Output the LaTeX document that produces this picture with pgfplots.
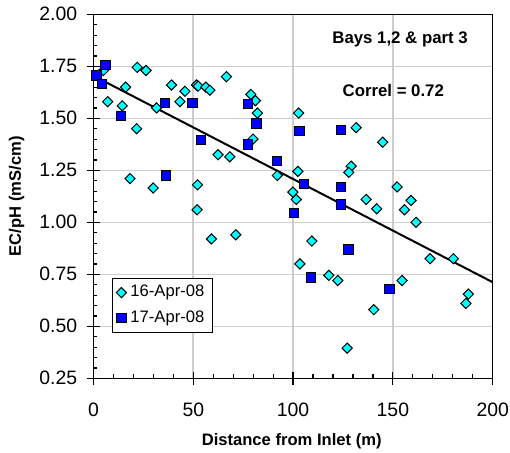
\documentclass[border=0pt]{standalone}
\usepackage{pgfplots}
\pgfplotsset{compat=1.18}
\usepackage{fontspec}
\setmainfont{Liberation Sans}
\definecolor{mycyan}{RGB}{0,255,255}
\definecolor{myblue}{RGB}{0,0,255}
\definecolor{gridgray}{RGB}{205,205,205}
\begin{document}
\begin{tikzpicture}
\begin{axis}[
  name=ax,
  scale only axis, width=199.6pt, height=182pt,
  xmin=0, xmax=200, ymin=0.25, ymax=2.0,
  xtick={0,50,100,150,200},
  ytick={0.25,0.5,0.75,1.0,1.25,1.5,1.75,2.0},
  minor x tick num=4, minor y tick num=4,
  xtick pos=left, ytick pos=left,
  tick align=center,
  major tick length=6.3pt,
  minor tick length=2pt,
  minor x tick style={yshift=1pt},
  minor y tick style={xshift=1pt},
  tick style={black, line width=0.6pt},
  xmajorgrids=true, ymajorgrids=true,
  major grid style={draw=gridgray, line width=0.8pt},
  axis line style={line width=0.6pt},
  clip=false,
  /pgf/number format/assume math mode=true,
  ticklabel style={font=\fontsize{9.7}{11}\selectfont},
  xticklabel style={yshift=-5.5pt},
  yticklabel style={xshift=-1.5pt, /pgf/number format/fixed, /pgf/number format/fixed zerofill, /pgf/number format/precision=2},
  xlabel={Distance from Inlet (m)},
  ylabel={EC/pH (mS/cm)},
  xlabel style={font=\bfseries\fontsize{8.3}{10}\selectfont, at={(axis description cs:0.4965,-0.1725)}, anchor=center},
  ylabel style={font=\bfseries\fontsize{8.3}{10}\selectfont, at={(axis description cs:-0.1924,0.5)}, anchor=center},
  legend style={at={(axis description cs:0.0456,0.2764)}, anchor=north west, draw=black, line width=0.6pt,
    font=\fontsize{8.3}{10}\selectfont, inner xsep=2pt, inner ysep=1.5pt, row sep=1.5pt},
  legend cell align=left,
]
\addplot[black, line width=1pt, forget plot] coordinates {(4.3,1.683) (200,0.712)};
\addplot[only marks, mark=square*, mark size=1.8pt, mark options={rotate=45, fill=mycyan, draw=black, line width=0.5pt}]
coordinates {
(5,1.73) (7.1,1.58) (16.1,1.65) (14.4,1.56) (21.9,1.745) (26.3,1.73) (21.6,1.45) (18.3,1.21)
(29.9,1.165) (31.6,1.55) (39.1,1.66) (43.3,1.58) (45.8,1.63) (51.6,1.66) (52.4,1.655) (56.3,1.65)
(58.3,1.635) (66.6,1.70) (52.1,1.18) (51.9,1.06) (59.1,0.92) (71.3,0.94) (62.4,1.325) (68.3,1.315)
(78.8,1.615) (81.1,1.585) (82.1,1.525) (79.9,1.40) (92.1,1.225) (102.8,1.525) (102.4,1.245) (99.9,1.145)
(101.6,1.11) (103.4,0.80) (109.4,0.91) (117.9,0.745) (122.4,0.72) (127.1,0.395) (131.6,1.455) (129.1,1.27)
(127.9,1.24) (136.6,1.11) (141.9,1.065) (140.4,0.58) (144.9,1.385) (152.1,1.17) (155.8,1.06) (159.1,1.105)
(161.6,1.0) (154.6,0.72) (168.6,0.825) (180.3,0.825) (187.8,0.655) (186.6,0.61)
};
\addlegendentry{16-Apr-08}
\addplot[only marks, mark=square*, mark size=2.35pt, mark options={fill=myblue, draw=black, line width=0.5pt}]
coordinates {
(1.6,1.705) (6.1,1.755) (4.3,1.665) (13.9,1.51) (35.9,1.575) (36.3,1.225) (49.6,1.575) (53.8,1.395)
(77.3,1.57) (81.6,1.475) (77.3,1.375) (91.8,1.295) (103.3,1.44) (105.4,1.185) (100.6,1.045) (124.1,1.445)
(124.1,1.17) (124.1,1.085) (127.8,0.87) (109.1,0.735) (148.4,0.68)
};
\addlegendentry{17-Apr-08}
\node[font=\bfseries\fontsize{8.4}{10}\selectfont] at (axis cs:153.6,1.88) {Bays 1,2 \& part 3};
\node[font=\bfseries\fontsize{8.4}{10}\selectfont] at (axis cs:150.2,1.633) {Correl = 0.72};
\end{axis}
\pgfresetboundingbox
\path (-46.75pt,-36.85pt) rectangle (208.25pt,189.15pt);
\end{tikzpicture}
\end{document}
